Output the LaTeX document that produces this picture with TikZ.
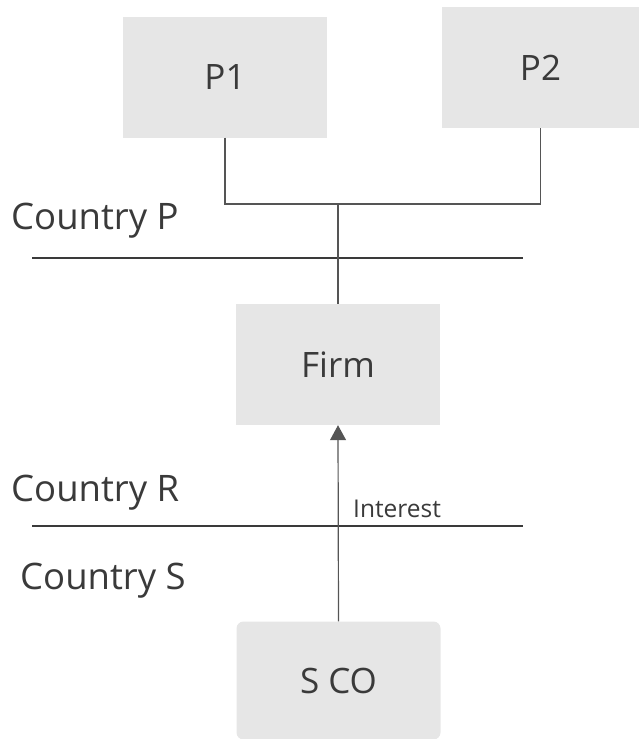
\documentclass[tikz,border=0pt]{standalone}
\usepackage{fontspec}
\setmainfont{Open Sans}
\usetikzlibrary{arrows.meta}
\definecolor{boxfill}{HTML}{E6E6E6}
\definecolor{ink}{HTML}{3A3A3A}
\definecolor{wire}{HTML}{555555}
\tikzset{
  entity/.style={fill=boxfill, draw=none, minimum width=204pt, minimum height=121pt,
    inner sep=0pt, text=ink, font=\fontsize{35}{40}\selectfont},
  region/.style={anchor=west, inner sep=0pt, text=ink, font=\fontsize{36.5}{40}\selectfont},
  border/.style={draw=ink, line width=2pt},
  link/.style={draw=wire, line width=1.2pt},
  flow/.style={link, -{Triangle[width=16pt,length=15pt]}},
  note/.style={anchor=west, inner sep=0pt, text=ink, font=\fontsize{24.5}{28}\selectfont}
}
\begin{document}
\begin{tikzpicture}[x=1pt, y=-1pt]
\useasboundingbox (0,0) rectangle (639,739);
% owners, firm and subsidiary
\node[entity] (p1) at (225,77) {P1};
\node[entity, minimum width=197pt] (p2) at (540.5,67.5) {P2};
\node[entity] (firm) at (338,364.5) {Firm};
\node[entity, rounded corners=7pt, minimum height=118pt] (sco) at (338.5,680.5) {S CO};
% country borders
\coordinate (bpL) at (32,258);
\coordinate (bpR) at (523,258);
\coordinate (brL) at (32,526);
\coordinate (brR) at (523,526);
\draw[border] (bpL) -- (bpR);
\draw[border] (brL) -- (brR);
\node[region] (cp) at (11,221) {Country P};
\node[region] (cr) at (11,493) {Country R};
\node[region] (cs) at (20,581) {Country S};
% ownership links
\coordinate (join) at (338,204);
\draw[link] (p1.south) |- (join) -| (p2.south);
\draw[link] (join) -- (firm.north);
% interest payment
\draw[flow] (sco.north) -- (firm.south);
\node[note] (interest) at (353,509) {Interest};
\end{tikzpicture}
\end{document}
